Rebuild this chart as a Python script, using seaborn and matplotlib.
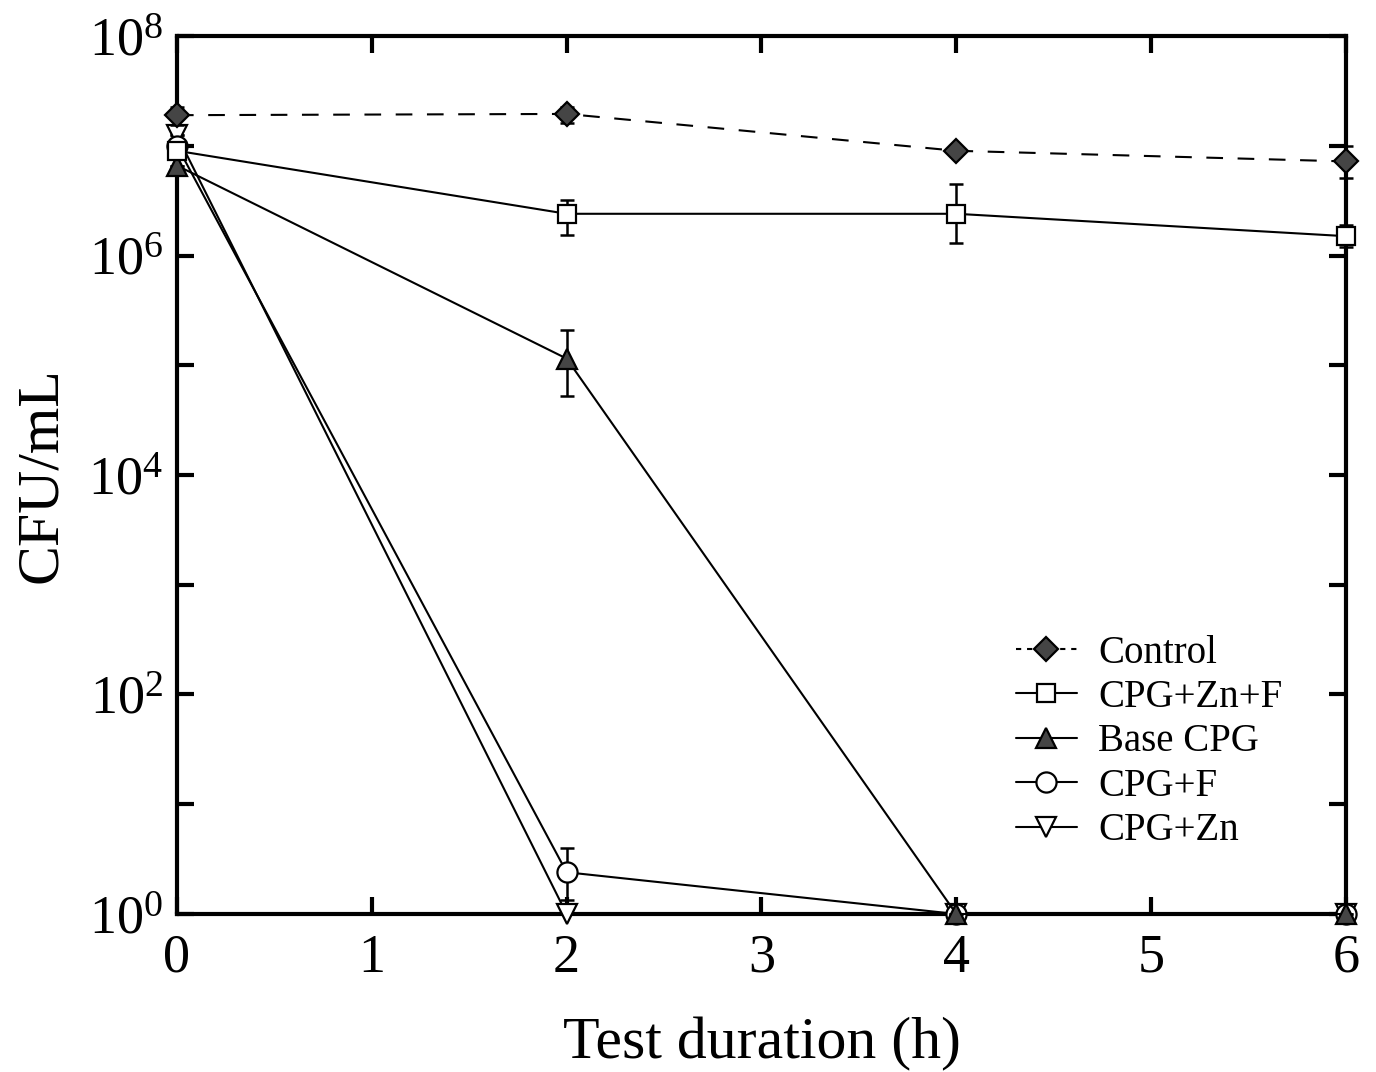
import numpy as np
import pandas as pd
import matplotlib
matplotlib.use("Agg")
import matplotlib.pyplot as plt
import seaborn as sns
from matplotlib.ticker import FixedLocator, FuncFormatter, NullLocator

# ---- data ----
hours = [0, 2, 4, 6]
series_names = ["CPG+Zn", "CPG+F", "Base CPG", "CPG+Zn+F", "Control"]
control = [1.9e7, 1.95e7, 9.0e6, 7.2e6]
control_lo = [1.55e7, 1.6e7, 9.0e6, 5.1e6]
control_hi = [2.25e7, 2.25e7, 9.0e6, 1.0e7]
cpg_zn_f = [9.0e6, 2.4e6, 2.4e6, 1.5e6]
cpg_zn_f_lo = [9.0e6, 1.55e6, 1.3e6, 1.2e6]
cpg_zn_f_hi = [9.0e6, 3.2e6, 4.5e6, 1.9e6]
base_cpg = [6.6e6, 1.15e5, 1.0, 1.0]
base_cpg_lo = [6.6e6, 5.2e4, 1.0, 1.0]
base_cpg_hi = [6.6e6, 2.1e5, 1.0, 1.0]
cpg_f = [1.0e7, 2.4, 1.0, 1.0]
cpg_f_lo = [1.0e7, 1.35, 1.0, 1.0]
cpg_f_hi = [1.0e7, 4.0, 1.0, 1.0]
cpg_zn = [1.25e7, 1.0, 1.0, 1.0]
cpg_zn_lo = [1.25e7, 1.0, 1.0, 1.0]
cpg_zn_hi = [1.25e7, 1.0, 1.0, 1.0]
x_ticks = [0, 1, 2, 3, 4, 5, 6]
y_ticks = [1e0, 1e1, 1e2, 1e3, 1e4, 1e5, 1e6, 1e7, 1e8]
legend_order = ["Control", "CPG+Zn+F", "Base CPG", "CPG+F", "CPG+Zn"]

sns.set_style("ticks")
plt.rcParams["font.family"] = ["Liberation Serif", "DejaVu Serif"]
plt.rcParams["mathtext.fontset"] = "custom"
plt.rcParams["mathtext.rm"] = "Liberation Serif"
plt.rcParams["mathtext.it"] = "Liberation Serif:italic"
plt.rcParams["mathtext.default"] = "regular"
plt.rcParams["text.color"] = "black"
plt.rcParams["axes.labelcolor"] = "black"
plt.rcParams["xtick.color"] = "black"
plt.rcParams["ytick.color"] = "black"

fig = plt.figure(figsize=(13.76, 10.72), dpi=100)
ax = fig.add_axes([0.1286, 0.1474, 0.8496, 0.819])

dark = "#454545"
styles = {
    "CPG+Zn": dict(vals=cpg_zn, lo=cpg_zn_lo, hi=cpg_zn_hi, marker="v", ms=15, mfc="white", ls="-"),
    "CPG+F": dict(vals=cpg_f, lo=cpg_f_lo, hi=cpg_f_hi, marker="o", ms=14.5, mfc="white", ls="-"),
    "Base CPG": dict(vals=base_cpg, lo=base_cpg_lo, hi=base_cpg_hi, marker="^", ms=15, mfc=dark, ls="-"),
    "CPG+Zn+F": dict(vals=cpg_zn_f, lo=cpg_zn_f_lo, hi=cpg_zn_f_hi, marker="s", ms=13, mfc="white", ls="-"),
    "Control": dict(vals=control, lo=control_lo, hi=control_hi, marker="D", ms=12.5, mfc=dark, ls="--"),
}

for i, name in enumerate(series_names):
    st = styles[name]
    vals = np.array(st["vals"])
    lo = vals - np.array(st["lo"])
    hi = np.array(st["hi"]) - vals
    ax.errorbar(hours, vals, yerr=[lo, hi], fmt="none", ecolor="black",
                elinewidth=1.8, capsize=5, capthick=1.8, zorder=2 + i, clip_on=False)
    df = pd.DataFrame({"h": hours, "v": st["vals"]})
    sns.lineplot(data=df, x="h", y="v", ax=ax, color="black",
                 linestyle=st["ls"], linewidth=1.5, marker=st["marker"],
                 markersize=st["ms"], markerfacecolor=st["mfc"],
                 markeredgecolor="black", markeredgewidth=1.6,
                 zorder=3 + i, clip_on=False, label=name)
    if st["ls"] == "--":
        ax.lines[-1].set_dashes([8, 7])

ax.set_yscale("log")
ax.set_xlim(0, 6)
ax.set_ylim(1, 1e8)
ax.xaxis.set_major_locator(FixedLocator(x_ticks))
ax.yaxis.set_major_locator(FixedLocator(y_ticks))
ax.yaxis.set_minor_locator(NullLocator())

def yfmt(v, pos):
    e = int(round(np.log10(v)))
    return r"$10^{%d}$" % e if e % 2 == 0 else ""

ax.yaxis.set_major_formatter(FuncFormatter(yfmt))
ax.tick_params(axis="both", which="major", direction="in", length=12, width=3,
               labelsize=39, top=True, right=True, color="black", labelcolor="black")
ax.tick_params(axis="x", pad=14)
ax.tick_params(axis="y", pad=10)
for sp in ax.spines.values():
    sp.set_linewidth(3)
    sp.set_color("black")

ax.set_xlabel("Test duration (h)", fontsize=43, labelpad=24, color="black")
ax.set_ylabel("CFU/mL", fontsize=43, labelpad=14, color="black")

h, l = ax.get_legend_handles_labels()
hd = {lab: hh for hh, lab in zip(h, l)}
leg = ax.legend([hd[o] for o in legend_order], legend_order, loc="upper left",
                bbox_to_anchor=(0.688, 0.358), frameon=False, fontsize=28,
                handlelength=1.55, handletextpad=0.55, labelspacing=0.19,
                markerscale=1.0)
leg.get_lines()[0].set_dashes([2.5, 2.8])
for t in leg.get_texts():
    t.set_color("black")

fig.savefig("out.png", dpi=100, facecolor="white")
